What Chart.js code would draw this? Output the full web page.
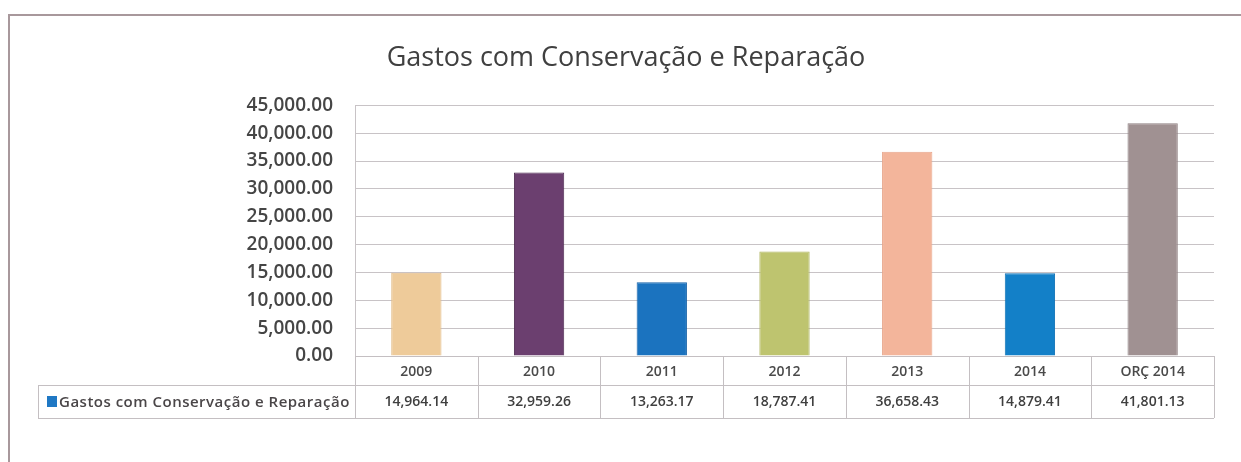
<!DOCTYPE html>
<html>
<head>
<meta charset="utf-8">
<script src="https://cdn.jsdelivr.net/npm/chart.js@4"></script>
<style>
  html, body { margin: 0; padding: 0; background: #fff; }
  #wrap { position: relative; width: 1241px; height: 462px; }
  #frame { position: absolute; left: 8px; top: 14px; right: 0; bottom: 0;
           border-left: 2px solid #a8989c; border-top: 2px solid #a8989c; }
  canvas { position: absolute; left: 0; top: 0; }
</style>
</head>
<body>
<div id="wrap">
  <div id="frame"></div>
  <canvas id="gastosChart" width="1241" height="462"></canvas>
</div>
<script>
const years = ['2009', '2010', '2011', '2012', '2013', '2014', 'ORÇ 2014'];
const gastos = [14964.14, 32959.26, 13263.17, 18787.41, 36658.43, 14879.41, 41801.13];
const barColors = ['#eecb9a', '#6b3f6f', '#1b73bf', '#bec46f', '#f3b59b', '#1380c8', '#a09192'];
const barBorders = ['#e2bd8a', '#4e2b52', '#1662a8', '#aeb45e', '#e8a68b', '#0f70b4', '#8f8082'];
const yTicks = [0, 5000, 10000, 15000, 20000, 25000, 30000, 35000, 40000, 45000];
const seriesName = 'Gastos com Conservação e Reparação';

const fmt = v => v.toLocaleString('en-US', { minimumFractionDigits: 2, maximumFractionDigits: 2 });

const FONT = '"Open Sans", "Noto Sans", sans-serif';
const TABLE_LEFT = 38;
const ROW_H1 = 29;   // category row
const ROW_H2 = 33;   // values row

// data table under the plot, aligned on the x scale
const dataTable = {
  id: 'dataTable',
  afterDraw(chart) {
    const ctx = chart.ctx;
    const xs = chart.scales.x;
    const area = chart.chartArea;
    const top = area.bottom;
    const mid = top + ROW_H1;
    const bot = mid + ROW_H2;
    const step = (area.right - area.left) / years.length;

    ctx.save();
    ctx.strokeStyle = '#c4bfc2';
    ctx.lineWidth = 1;
    ctx.beginPath();
    ctx.moveTo(area.left, top + 0.5); ctx.lineTo(area.right, top + 0.5);
    ctx.moveTo(TABLE_LEFT, mid + 0.5); ctx.lineTo(area.right, mid + 0.5);
    ctx.moveTo(TABLE_LEFT, bot + 0.5); ctx.lineTo(area.right, bot + 0.5);
    ctx.moveTo(TABLE_LEFT + 0.5, mid); ctx.lineTo(TABLE_LEFT + 0.5, bot);
    for (let i = 0; i <= years.length; i++) {
      const x = Math.round(area.left + i * step) + 0.5;
      ctx.moveTo(x, top); ctx.lineTo(x, bot);
    }
    ctx.stroke();

    // legend key + series name
    ctx.fillStyle = '#1f78c4';
    ctx.fillRect(TABLE_LEFT + 9, mid + 11, 10, 11);
    ctx.font = '600 15px ' + FONT;
    ctx.letterSpacing = '0.5px';
    ctx.textBaseline = 'middle';
    ctx.textAlign = 'left';
    ctx.fillStyle = '#4a4648';
    ctx.fillText(seriesName, TABLE_LEFT + 21, mid + ROW_H2 / 2 + 1);
    ctx.letterSpacing = '0px';

    // values
    ctx.font = '600 14px ' + FONT;
    ctx.textAlign = 'center';
    ctx.fillStyle = '#3f3f3f';
    gastos.forEach((v, i) => {
      ctx.fillText(fmt(v), xs.getPixelForValue(i), mid + ROW_H2 / 2 + 1);
    });
    ctx.restore();
  }
};

new Chart(document.getElementById('gastosChart'), {
  type: 'bar',
  data: {
    labels: years,
    datasets: [{
      label: seriesName,
      data: gastos,
      backgroundColor: barColors,
      borderColor: barBorders,
      borderWidth: 1,
      categoryPercentage: 1,
      barPercentage: 0.41
    }]
  },
  options: {
    responsive: false,
    animation: false,
    layout: { padding: { left: TABLE_LEFT, right: 27, top: 42, bottom: 44 } },
    plugins: {
      legend: { display: false },
      tooltip: { enabled: false },
      title: {
        display: true,
        text: 'Gastos com Conservação e Reparação',
        color: '#404040',
        font: { family: FONT, size: 27, weight: 'normal' },
        padding: { top: 0, bottom: 31 }
      }
    },
    scales: {
      x: {
        grid: { display: false },
        border: { display: false },
        ticks: { color: '#4a4a4a', font: { family: FONT, size: 14, weight: '600' }, padding: 0 },
        afterFit(scale) { scale.height = ROW_H1 + ROW_H2; }
      },
      y: {
        min: 0,
        max: 45000,
        afterBuildTicks(scale) { scale.ticks = yTicks.map(v => ({ value: v })); },
        afterFit(scale) { scale.width = 317; },
        grid: { color: '#c8c3c6', drawTicks: false },
        border: { display: true, color: '#c8c3c6' },
        ticks: {
          color: '#454545',
          font: { family: FONT, size: 19, weight: '600' },
          padding: 22,
          callback: v => fmt(v)
        }
      }
    }
  },
  plugins: [dataTable]
});
</script>
</body>
</html>
